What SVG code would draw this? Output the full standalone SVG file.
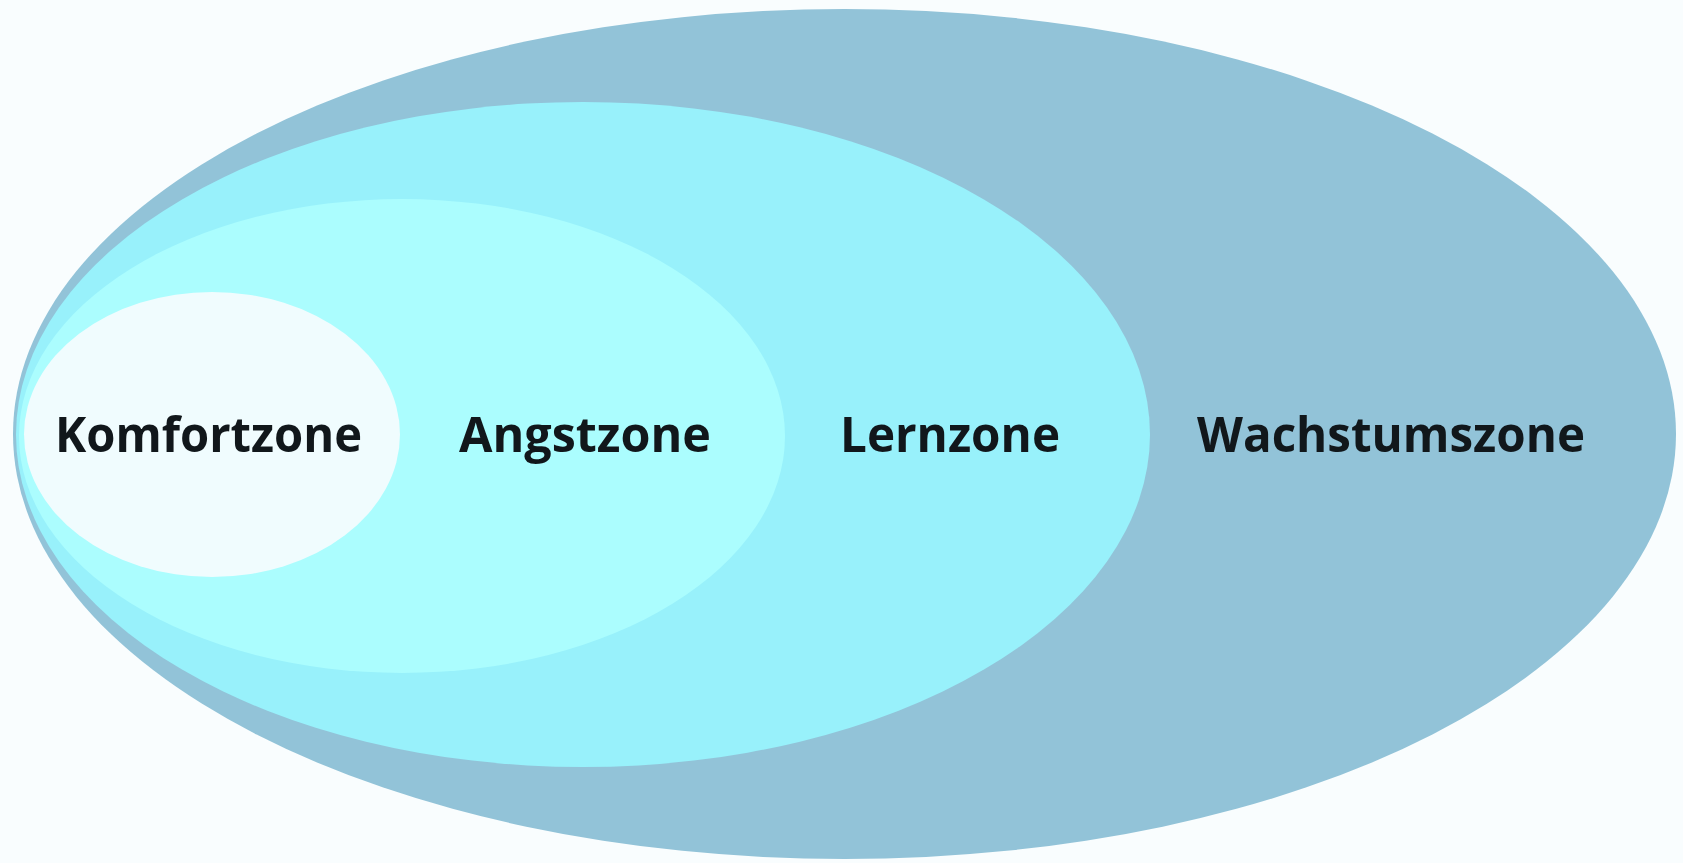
<svg xmlns="http://www.w3.org/2000/svg" width="1683" height="863" viewBox="0 0 1683 863">
<style>
.lbl{font-family:"Open Sans",Lato,"Liberation Sans",sans-serif;font-weight:bold;font-size:49px;fill:#11171b;text-anchor:middle}
</style>
<rect x="0" y="0" width="1683" height="863" fill="#f9fdfe"/>
<g id="wachstumszone">
<ellipse cx="844.5" cy="434" rx="831.5" ry="425" fill="#92c3d8"/>
<text class="lbl" x="1391" y="452" textLength="388" lengthAdjust="spacingAndGlyphs">Wachstumszone</text>
</g>
<g id="lernzone">
<ellipse cx="583" cy="434.5" rx="567" ry="332.5" fill="#98f1fb"/>
<text class="lbl" x="950" y="452" textLength="220" lengthAdjust="spacingAndGlyphs">Lernzone</text>
</g>
<g id="angstzone">
<ellipse cx="402" cy="436" rx="383" ry="237" fill="#abfdfe"/>
<text class="lbl" x="585" y="452" textLength="252" lengthAdjust="spacingAndGlyphs">Angstzone</text>
</g>
<g id="komfortzone">
<ellipse cx="212" cy="434.5" rx="188" ry="142.5" fill="#f0fcfe"/>
<text class="lbl" x="208.5" y="452" textLength="307" lengthAdjust="spacingAndGlyphs">Komfortzone</text>
</g>
<g id="connectors"/>
</svg>
